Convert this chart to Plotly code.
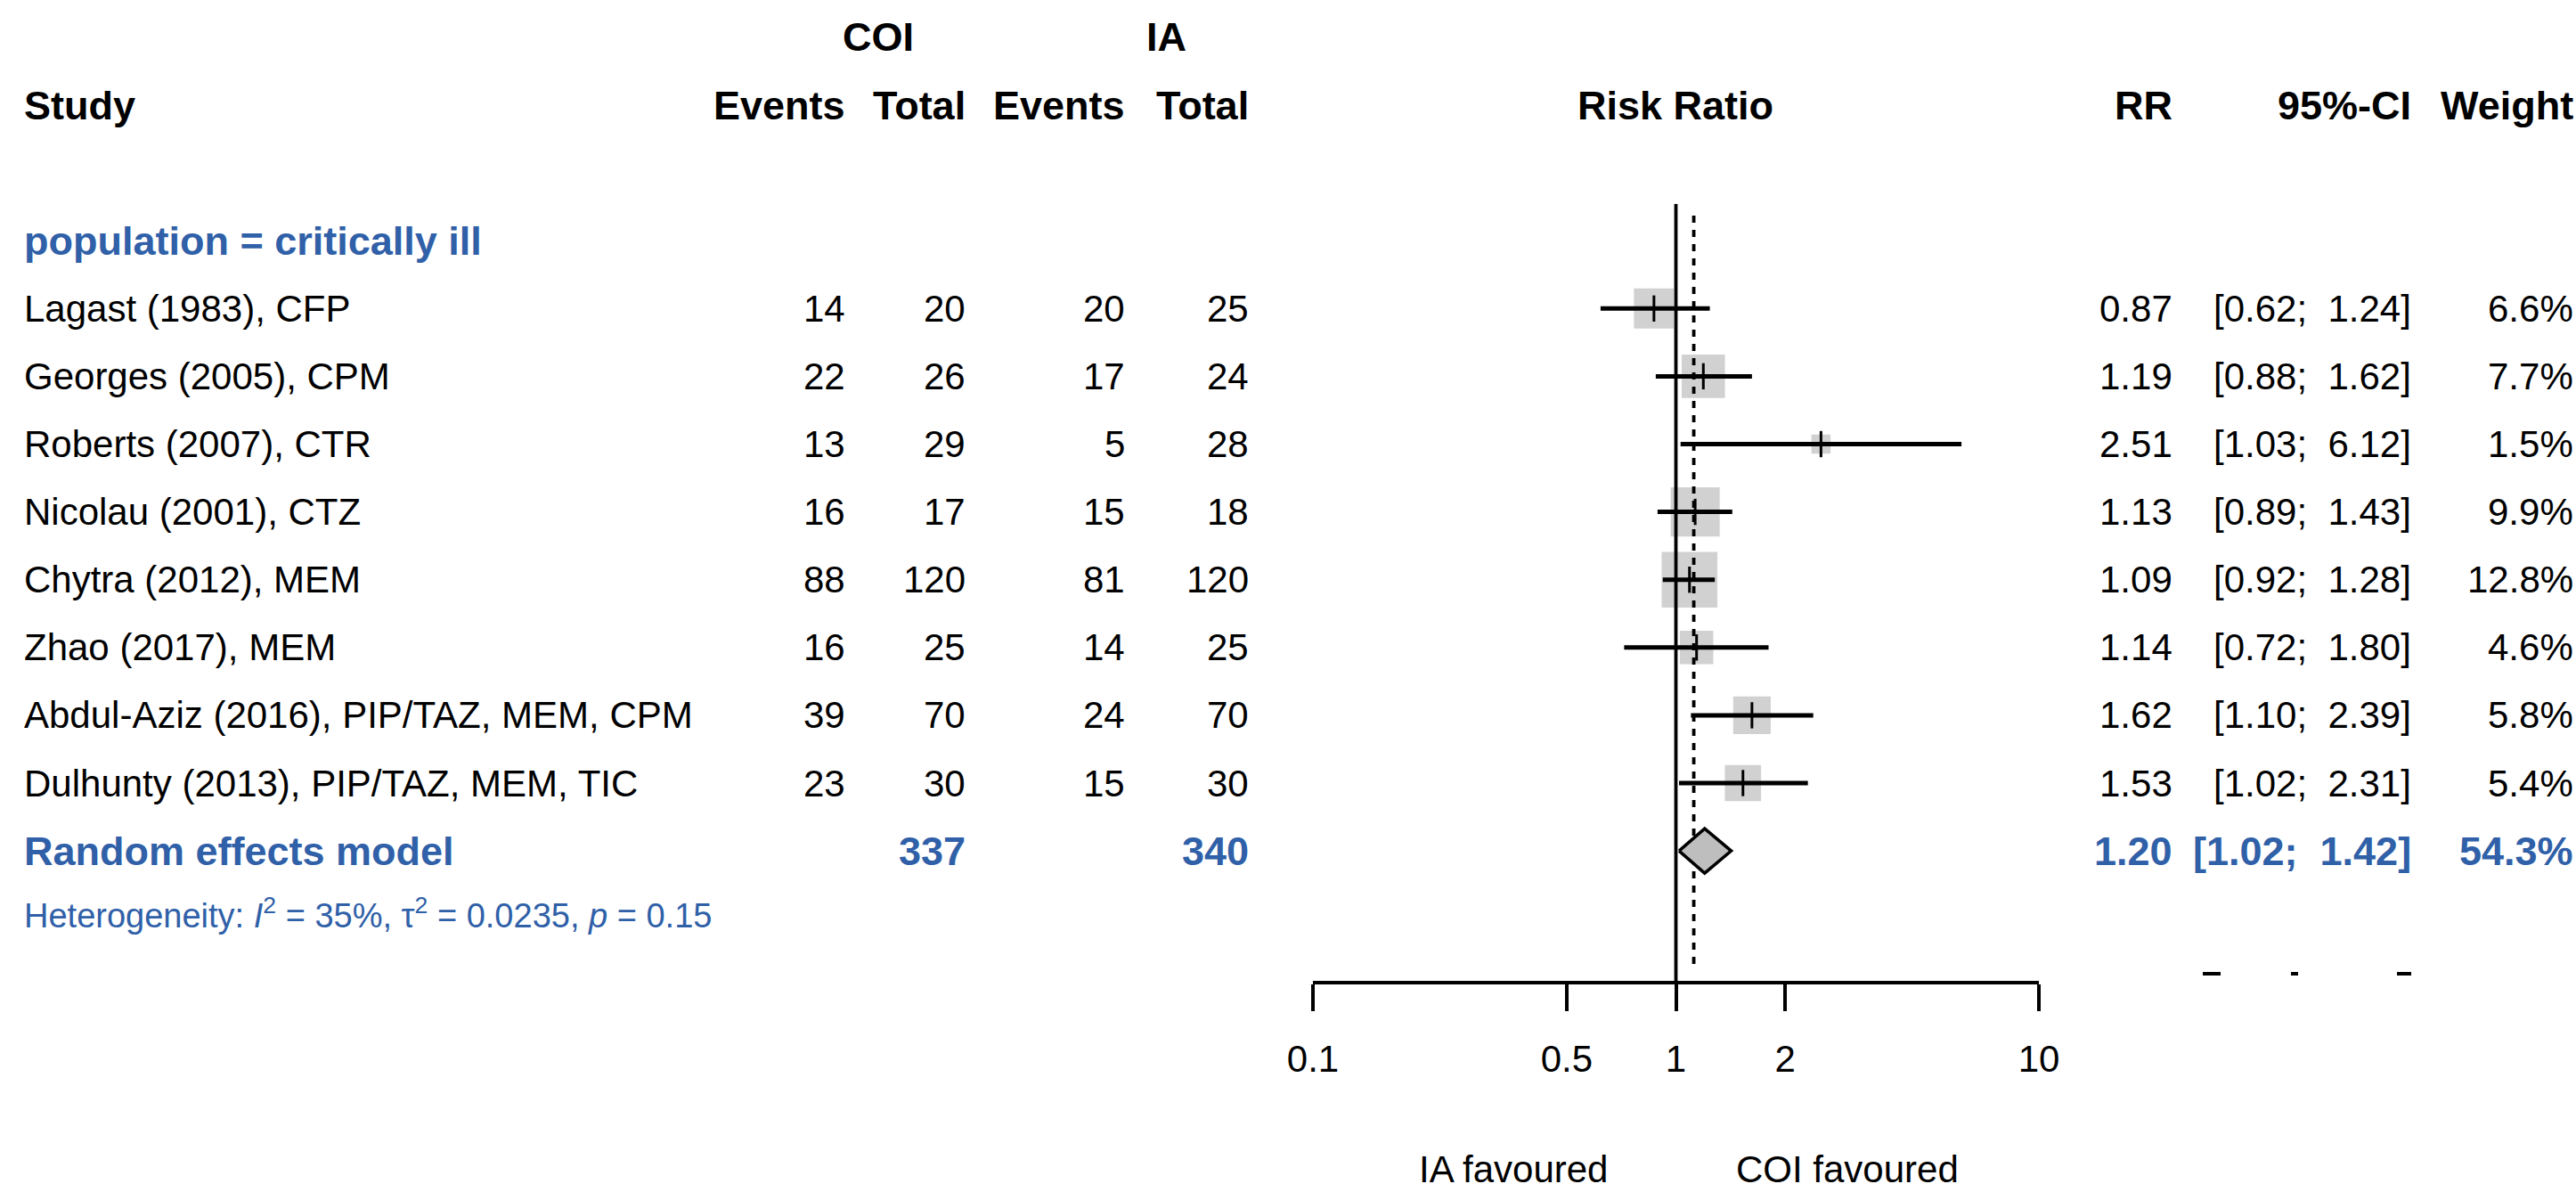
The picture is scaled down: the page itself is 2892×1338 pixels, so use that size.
import math
import plotly.graph_objects as go

# ---------------- data ----------------
studies = ["Lagast (1983), CFP", "Georges (2005), CPM", "Roberts (2007), CTR",
           "Nicolau (2001), CTZ", "Chytra (2012), MEM", "Zhao (2017), MEM",
           "Abdul-Aziz (2016), PIP/TAZ, MEM, CPM", "Dulhunty (2013), PIP/TAZ, MEM, TIC"]
events_coi = [14, 22, 13, 16, 88, 16, 39, 23]
total_coi = [20, 26, 29, 17, 120, 25, 70, 30]
events_ia = [20, 17, 5, 15, 81, 14, 24, 15]
total_ia = [25, 24, 28, 18, 120, 25, 70, 30]
rr = [0.87, 1.19, 2.51, 1.13, 1.09, 1.14, 1.62, 1.53]
ci_lo = [0.62, 0.88, 1.03, 0.89, 0.92, 0.72, 1.10, 1.02]
ci_hi = [1.24, 1.62, 6.12, 1.43, 1.28, 1.80, 2.39, 2.31]
weights = [6.6, 7.7, 1.5, 9.9, 12.8, 4.6, 5.8, 5.4]

subgroup_label = "population = critically ill"
pooled_label = "Random effects model"
pooled_total_coi = 337
pooled_total_ia = 340
pooled_rr = 1.20
pooled_lo = 1.02
pooled_hi = 1.42
pooled_weight = 54.3
het_i2 = 35
het_tau2 = 0.0235
het_p = 0.15
overall_rr = 1.12  # dashed reference line

tick_vals = [0.1, 0.5, 1, 2, 10]
tick_text = ["0.1", "0.5", "1", "2", "10"]
left_label = "IA favoured"
right_label = "COI favoured"

# ---------------- layout helpers ----------------
W, H = 2892, 1338
ROW0, ROWH = 118.0, 76.1          # pixel centre of header row, row spacing
BLUE = "#2F60A8"
GREY = "#BEBEBE"
FONT = "Liberation Sans"
FS = 42
FSB = 45

def px(x):
    return x / W

study_rows = [3 + i for i in range(len(studies))]
pooled_row = study_rows[-1] + 1
het_row = pooled_row + 1

fig = go.Figure()

# squares (size from weight)
fig.add_trace(go.Scatter(
    x=rr, y=study_rows, mode="markers",
    marker=dict(symbol="square", size=[17.5 * math.sqrt(w) for w in weights],
                color=GREY, line=dict(width=0)),
    hoverinfo="skip", showlegend=False))

# confidence intervals
cx, cy = [], []
for lo, hi, r in zip(ci_lo, ci_hi, study_rows):
    cx += [lo, hi, None]
    cy += [r, r, None]
fig.add_trace(go.Scatter(x=cx, y=cy, mode="lines",
                         line=dict(color="black", width=5),
                         hoverinfo="skip", showlegend=False))

# point estimate ticks
fig.add_trace(go.Scatter(
    x=rr, y=study_rows, mode="markers",
    marker=dict(symbol="line-ns", size=21, line=dict(width=3, color="black")),
    hoverinfo="skip", showlegend=False))

# reference lines
fig.add_trace(go.Scatter(x=[1, 1], y=[(229 - ROW0) / ROWH, (1103 - ROW0) / ROWH],
                         mode="lines", line=dict(color="black", width=3.8),
                         hoverinfo="skip", showlegend=False))
fig.add_trace(go.Scatter(x=[overall_rr, overall_rr],
                         y=[(242 - ROW0) / ROWH, (1090 - ROW0) / ROWH],
                         mode="lines", line=dict(color="black", width=3.8, dash="8px,8px"),
                         hoverinfo="skip", showlegend=False))

# diamond
dh = 25 / ROWH
fig.add_trace(go.Scatter(
    x=[pooled_lo, pooled_rr, pooled_hi, pooled_rr, pooled_lo],
    y=[pooled_row, pooled_row - dh, pooled_row, pooled_row + dh, pooled_row],
    mode="lines", fill="toself", fillcolor=GREY,
    line=dict(color="black", width=3.5), hoverinfo="skip", showlegend=False))

ann = []

def txt(x, row, s, anchor="left", bold=False, color="black", size=None):
    if size is None:
        size = FSB if bold else FS
    if bold:
        s = "<b>" + s + "</b>"
    ann.append(dict(x=px(x), y=row, xref="paper", yref="y", text=s, showarrow=False,
                    xanchor=anchor, yanchor="middle", borderpad=0,
                    font=dict(family=FONT, size=size, color=color)))

def ci_text(lo, hi):
    return f"[{lo:.2f};\u00a0 {hi:.2f}]"

# headers
txt(986, -1, "COI", "center", True)
txt(1309, -1, "IA", "center", True)
txt(26, 0, "Study", "left", True)
txt(950, 0, "Events", "right", True)
txt(1085, 0, "Total", "right", True)
txt(1264, 0, "Events", "right", True)
txt(1403, 0, "Total", "right", True)
txt(1881, 0, "Risk Ratio", "center", True)
txt(2440, 0, "RR", "right", True)
txt(2708, 0, "95%-CI", "right", True)
txt(2890, 0, "Weight", "right", True)

txt(26, 2, subgroup_label, "left", True, BLUE)

for i, r in enumerate(study_rows):
    txt(26, r, studies[i])
    txt(950, r, str(events_coi[i]), "right")
    txt(1085, r, str(total_coi[i]), "right")
    txt(1264, r, str(events_ia[i]), "right")
    txt(1403, r, str(total_ia[i]), "right")
    txt(2440, r, f"{rr[i]:.2f}", "right")
    txt(2708, r, ci_text(ci_lo[i], ci_hi[i]), "right")
    txt(2890, r, f"{weights[i]:.1f}%", "right")

txt(26, pooled_row, pooled_label, "left", True, BLUE)
txt(1085, pooled_row, str(pooled_total_coi), "right", True, BLUE)
txt(1403, pooled_row, str(pooled_total_ia), "right", True, BLUE)
txt(2440, pooled_row, f"{pooled_rr:.2f}", "right", True, BLUE)
txt(2708, pooled_row, ci_text(pooled_lo, pooled_hi), "right", True, BLUE)
txt(2890, pooled_row, f"{pooled_weight:.1f}%", "right", True, BLUE)

txt(26, het_row - 0.08,
    f"Heterogeneity: <i>I</i><sup>2</sup> = {het_i2}%, τ<sup>2</sup> = {het_tau2}, <i>p</i> = {het_p}",
    "left", False, BLUE, 38)

# favoured labels
txt(1699, (1312 - ROW0) / ROWH, left_label, "center")
txt(2074, (1312 - ROW0) / ROWH, right_label, "center")

# small clipped remnants at right
shapes = []
for x0, x1 in [(2473, 2493), (2572, 2580), (2691, 2707)]:
    shapes.append(dict(type="rect", xref="paper", yref="paper",
                       x0=px(x0), x1=px(x1), y0=1 - 1095 / H, y1=1 - 1091 / H,
                       fillcolor="black", line=dict(width=0)))

fig.update_layout(
    width=W, height=H,
    margin=dict(l=0, r=0, t=0, b=0, pad=0, autoexpand=False),
    paper_bgcolor="white", plot_bgcolor="white",
    annotations=ann, shapes=shapes, showlegend=False,
    xaxis=dict(type="log", range=[-1, 1], domain=[1474 / W, 2289 / W],
               anchor="free", position=1 - 1103 / H, automargin=False,
               showline=True, linewidth=4, linecolor="black",
               ticks="outside", ticklen=30, tickwidth=3.5, tickcolor="black",
               tickvals=tick_vals, ticktext=tick_text, ticklabelstandoff=18,
               tickfont=dict(family=FONT, size=FS, color="black"),
               showgrid=False, zeroline=False, fixedrange=True),
    yaxis=dict(range=[(H - ROW0) / ROWH, -ROW0 / ROWH], domain=[0, 1], automargin=False,
               visible=False, showgrid=False, zeroline=False, fixedrange=True),
)

post = ("document.body.style.margin='0px';document.body.style.padding='0px';"
        "document.body.style.overflow='hidden';"
        "document.documentElement.style.overflow='hidden';")
fig.write_html("out.html", post_script=post, config={"displayModeBar": False})
